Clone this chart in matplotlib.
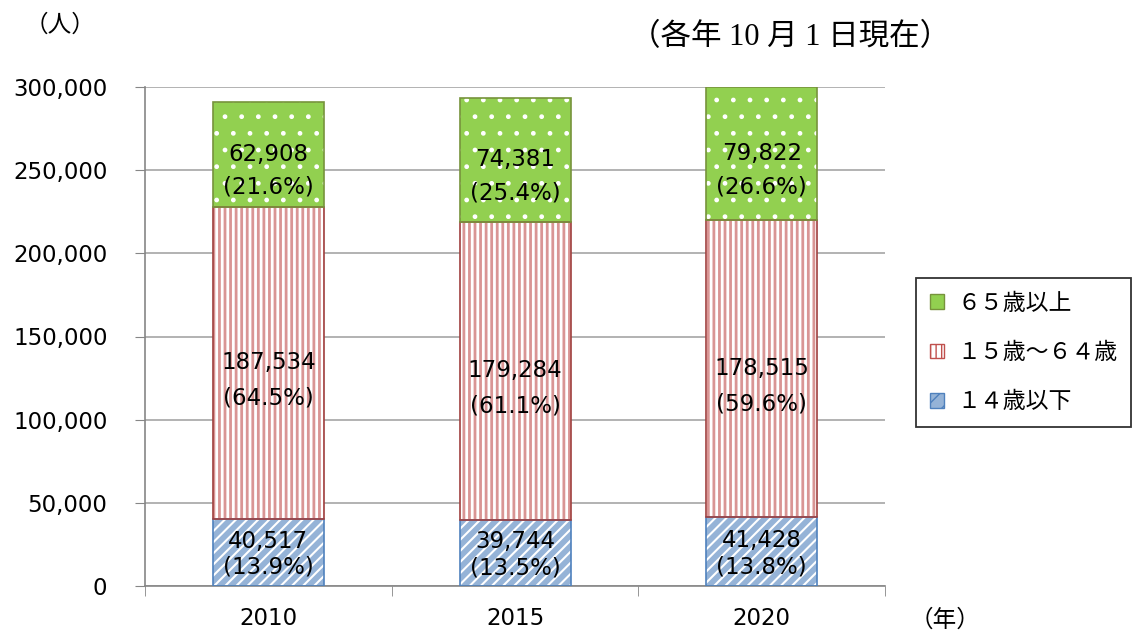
import matplotlib
matplotlib.use("Agg")
import matplotlib.pyplot as plt
from matplotlib.patches import Patch
from matplotlib.ticker import FuncFormatter
import numpy as np

plt.rcParams['font.family'] = ['DejaVu Sans', 'Noto Sans CJK JP']

years = ["2010", "2015", "2020"]
under15 = [40517, 39744, 41428]
working = [187534, 179284, 178515]
over65 = [62908, 74381, 79822]
pct_under15 = ["13.9%", "13.5%", "13.8%"]
pct_working = ["64.5%", "61.1%", "59.6%"]
pct_over65 = ["21.6%", "25.4%", "26.6%"]

fig = plt.figure(figsize=(11.36, 6.32), dpi=100)
ax = fig.add_axes([145/1136, 46/632, 740/1136, 499/632])

x = np.arange(len(years))
w = 0.45
u = np.array(under15)
wk = np.array(working)
o = np.array(over65)

# face, hatch colour, hatch, edge, hatch linewidth
styles = [
    ("#95b3d7", "#ffffff", "///", "#4f81bd", 1.5),
    ("#ffffff", "#d99594", "|||", "#a0403e", 2.0),
    ("#92d050", "#ffffff", ".", "#77933c", 1.0),
]
series = [(u, np.zeros(3)), (wk, u), (o, u + wk)]

for (vals, bottom), (fc, hc, h, ec, hlw) in zip(series, styles):
    with plt.rc_context({'hatch.linewidth': hlw}):
        ax.bar(x, vals, w, bottom=bottom, color=fc, edgecolor=hc, hatch=h, linewidth=0, zorder=2)
    ax.bar(x, vals, w, bottom=bottom, fill=False, edgecolor=ec, linewidth=1.2, zorder=3)

fs = 16.5
px = 0.72  # points per pixel


def seg_label(xi, yc, top, bottom, dy_top, dy_bot):
    ax.annotate(top, (xi, yc), xytext=(0, -dy_top * px), textcoords="offset points",
                ha="center", va="center", fontsize=fs, zorder=4)
    ax.annotate(bottom, (xi, yc), xytext=(0, -dy_bot * px), textcoords="offset points",
                ha="center", va="center", fontsize=fs, zorder=4)


for i in range(3):
    seg_label(x[i], u[i] / 2, f"{under15[i]:,}", f"({pct_under15[i]})", -11, 15)
    seg_label(x[i], u[i] + wk[i] / 2, f"{working[i]:,}", f"({pct_working[i]})", 0, 35)
    seg_label(x[i], u[i] + wk[i] + o[i] / 2, f"{over65[i]:,}", f"({pct_over65[i]})", 0, 33)

ax.set_xlim(-0.5, 2.5)
ax.set_ylim(0, 300000)
ax.set_yticks(np.arange(0, 300001, 50000))
ax.yaxis.set_major_formatter(FuncFormatter(lambda v, p: f"{int(v):,}"))
ax.set_xticks(x)
ax.set_xticklabels(years)
ax.set_xticks([-0.5, 0.5, 1.5, 2.5], minor=True)
ax.tick_params(axis="x", which="major", length=0, pad=15, labelsize=fs)
ax.tick_params(axis="x", which="minor", length=7, color="#868686", direction="out")
ax.tick_params(axis="y", length=7, color="#868686", pad=20, labelsize=fs)

ax.grid(axis="y", color="#a6a6a6", linewidth=1.2, zorder=0)
ax.set_axisbelow(True)
for s in ["top", "right"]:
    ax.spines[s].set_visible(False)
for s in ["left", "bottom"]:
    ax.spines[s].set_color("#868686")
    ax.spines[s].set_linewidth(1.2)

handles = [
    Patch(facecolor="#92d050", edgecolor="#77933c", label="６５歳以上"),
    Patch(facecolor="#ffffff", edgecolor="#c0504d", hatch="|||", label="１５歳～６４歳"),
    Patch(facecolor="#95b3d7", edgecolor="#4f81bd", hatch="//", label="１４歳以下"),
]
leg = fig.legend(handles=handles, loc="upper left", bbox_to_anchor=(916/1136, 1 - 278/632),
                 prop={'family': ['Noto Sans CJK JP'], 'size': 16.5}, frameon=True,
                 fancybox=False, edgecolor="black",
                 labelspacing=1.15, handlelength=0.6, handleheight=0.6, handletextpad=0.6,
                 borderpad=0.6, borderaxespad=0)
leg.get_frame().set_linewidth(1.3)

cjk_serif = ['Liberation Serif', 'Noto Sans CJK JP']
fig.text(60/1136, 1 - 25/632, "（人）", ha="center", va="center", fontsize=17,
         family=['Noto Sans CJK JP'])
fig.text(790/1136, 1 - 38/632, "（各年 10 月 1 日現在）", ha="center", va="center",
         fontsize=22, family=cjk_serif)
fig.text(945/1136, 1 - 620/632, "（年）", ha="center", va="center", fontsize=17,
         family=['Noto Sans CJK JP'])

fig.savefig("out.png", dpi=100)
